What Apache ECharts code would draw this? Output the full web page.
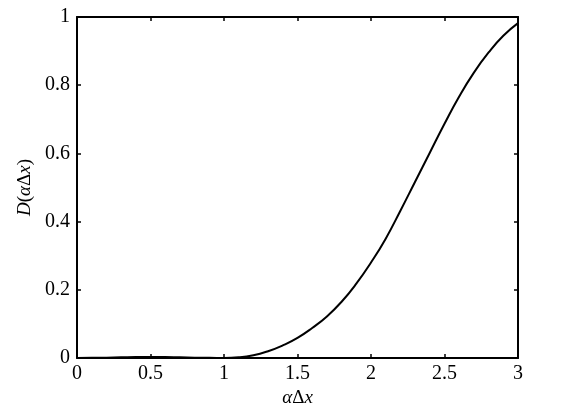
<!DOCTYPE html>
<html>
<head>
<meta charset="utf-8">
<script src="https://cdn.jsdelivr.net/npm/echarts@6/dist/echarts.min.js"></script>
<style>
  html, body { margin: 0; padding: 0; background: #fff; }
  #chart { width: 582px; height: 418px; }
</style>
</head>
<body>
<div id="chart"></div>
<script>
// values
const xValues = [0, 0.1, 0.2, 0.3, 0.4, 0.5, 0.6, 0.7, 0.8, 0.9, 1.0,
  1.1, 1.2, 1.3, 1.4, 1.5, 1.6, 1.7, 1.8, 1.9, 2.0,
  2.1, 2.2, 2.3, 2.4, 2.5, 2.6, 2.7, 2.8, 2.9, 3.0];
const dValues = [0, 0.0005, 0.001, 0.002, 0.003, 0.003, 0.003, 0.002, 0.001, 0.0005, 0.0003,
  0.002, 0.008, 0.02, 0.037, 0.059, 0.088, 0.122, 0.165, 0.218, 0.28,
  0.35, 0.432, 0.517, 0.602, 0.687, 0.767, 0.837, 0.896, 0.945, 0.982];

const serif = '"Liberation Serif", "DejaVu Serif", serif';

const chart = echarts.init(document.getElementById('chart'));

const points = xValues.map((x, i) => [x, dValues[i]]);

const axisLine = { show: true, onZero: false, lineStyle: { color: '#000', width: 2 } };
const tick = { show: true, inside: true, length: 4, lineStyle: { color: '#000', width: 1.5 } };

chart.setOption({
  backgroundColor: '#fff',
  animation: false,
  grid: { left: 77, right: 64, top: 17, bottom: 60 },
  xAxis: [
    {
      type: 'value', min: 0, max: 3, interval: 0.5,
      axisLine: axisLine, axisTick: tick, splitLine: { show: false },
      axisLabel: { color: '#000', fontFamily: serif, fontSize: 20, margin: 6 },
      name: '{i|α}Δ{i|x}',
      nameLocation: 'middle', nameGap: 28,
      nameTextStyle: {
        color: '#000', fontFamily: serif, fontSize: 19,
        rich: { i: { fontStyle: 'italic', fontFamily: serif, fontSize: 19, color: '#000' } }
      }
    },
    {
      type: 'value', min: 0, max: 3, interval: 0.5, position: 'top',
      axisLine: axisLine, axisTick: tick, axisLabel: { show: false }, splitLine: { show: false }
    }
  ],
  yAxis: [
    {
      type: 'value', min: 0, max: 1, interval: 0.2,
      axisLine: axisLine, axisTick: tick, splitLine: { show: false },
      axisLabel: { color: '#000', fontFamily: serif, fontSize: 20, margin: 7 },
      name: '{i|D}({i|α}Δ{i|x})',
      nameLocation: 'middle', nameGap: 42, nameRotate: 90,
      nameTextStyle: {
        color: '#000', fontFamily: serif, fontSize: 19,
        rich: { i: { fontStyle: 'italic', fontFamily: serif, fontSize: 19, color: '#000' } }
      }
    },
    {
      type: 'value', min: 0, max: 1, interval: 0.2, position: 'right',
      axisLine: axisLine, axisTick: tick, axisLabel: { show: false }, splitLine: { show: false }
    }
  ],
  series: [
    {
      type: 'line',
      data: points,
      smooth: true,
      showSymbol: false,
      lineStyle: { color: '#000', width: 2 }
    }
  ]
});
</script>
</body>
</html>
